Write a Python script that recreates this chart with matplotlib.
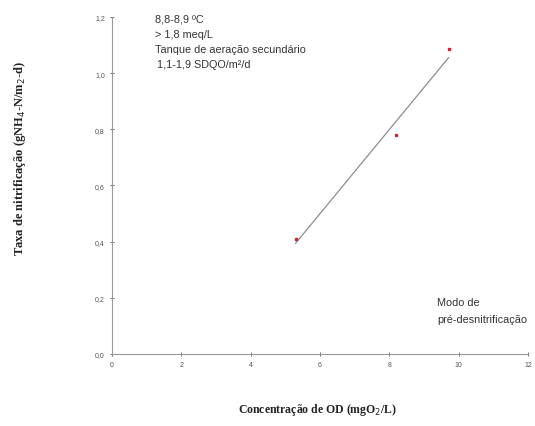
import matplotlib.pyplot as plt
import numpy as np

plt.rcParams['font.family'] = ['Liberation Sans', 'DejaVu Sans']

# dados
od = [5.3, 8.18, 9.71]           # mgO2/L
nitrif = [0.41, 0.78, 1.085]     # gNH4-N/m2-d
xticks = [0, 2, 4, 6, 8, 10, 12]
yticks = [0.0, 0.2, 0.4, 0.6, 0.8, 1.0, 1.2]

fig = plt.figure(figsize=(5.35, 4.27), dpi=100)
ax = fig.add_axes([0.209, 0.169, 0.778, 0.789])

ax.plot(od, nitrif, 's', color='#d8203a', markersize=2.0, zorder=3)

# linha de tendência linear
a, b = np.polyfit(od, nitrif, 1)
xl = np.array([min(od), max(od)])
ax.plot(xl, a * xl + b, color='#8c8c8c', linewidth=0.9)

ax.set_xlim(0, 12)
ax.set_ylim(0, 1.2)
ax.set_xticks(xticks)
ax.set_yticks(yticks)
ax.set_xticklabels([str(t) for t in xticks])
ax.set_yticklabels([f'{t:.1f}'.replace('.', ',') for t in yticks])
ax.tick_params(labelsize=5, colors='#555555', length=3, width=0.6, direction='inout')
for s in ['top', 'right']:
    ax.spines[s].set_visible(False)
for s in ['left', 'bottom']:
    ax.spines[s].set_color('#9a9a9a')
    ax.spines[s].set_linewidth(0.8)

txt = dict(fontsize=7.8, color='#333333', ha='left', va='center', transform=fig.transFigure)
fig.text(155 / 535, 1 - 20 / 427, '8,8-8,9 ºC', **txt)
fig.text(155 / 535, 1 - 35 / 427, '> 1,8 meq/L', **txt)
fig.text(155 / 535, 1 - 50 / 427, 'Tanque de aeração secundário', **txt)
fig.text(157 / 535, 1 - 65 / 427, '1,1-1,9 SDQO/m²/d', **txt)
fig.text(437 / 535, 1 - 303 / 427, 'Modo de', **txt)
fig.text(437 / 535, 1 - 320 / 427, 'pré-desnitrificação', **txt)

fig.text(20 / 535, 1 - 158 / 427, 'Taxa de nitrificação (gNH$_4$-N/m$_2$-d)',
         rotation=90, ha='center', va='center', fontsize=9, fontweight='bold',
         family=['Liberation Serif', 'DejaVu Serif'], color='#222222')
fig.text(318 / 535, 1 - 410 / 427, 'Concentração de OD (mgO$_2$/L)',
         ha='center', va='center', fontsize=8.5, fontweight='bold',
         family=['Liberation Serif', 'DejaVu Serif'], color='#222222')

fig.savefig('out.png', dpi=100)
